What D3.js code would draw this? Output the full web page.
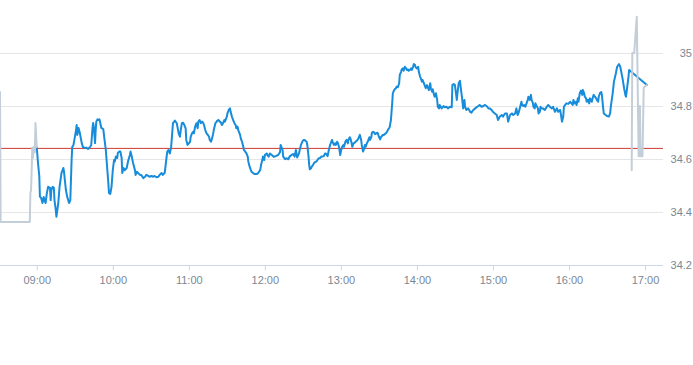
<!DOCTYPE html>
<html><head><meta charset="utf-8">
<script src="https://cdn.jsdelivr.net/npm/d3@7"></script>
<style>body{margin:0;background:#fff}svg{display:block;font-family:"Liberation Sans",Arial,sans-serif}</style>
</head><body><svg id="chart" width="693" height="365"></svg>
<script>
// minutes relative to the 09:00 open, price
const sessionOpen = Date.UTC(2024, 0, 2, 9, 0);
const xDomainMinutes = [-29, 495];
const hourTickMinutes = [0, 60, 120, 180, 240, 300, 360, 420, 480];
const priceTicks = [34.2, 34.4, 34.6, 34.8, 35];
const priceDomain = [34.2, 35.2];
const referencePrice = 34.64;

const preMarket = [[-29,34.853],[-28.5,34.362],[-5.5,34.362],[-5,34.475],[-4.5,34.48],[-3.5,34.642],[-3,34.605],[-2.5,34.645],[-1.5,34.625],[-1,34.736],[0,34.645]];

const session = [[0,34.645],[1,34.585],[2,34.536],[2.5,34.458],[3.5,34.453],[4.5,34.434],[5.5,34.457],[6.5,34.439],[7,34.434],[8,34.472],[9,34.495],[10.5,34.491],[11,34.445],[11.5,34.483],[12.5,34.495],[13.5,34.491],[14,34.445],[15,34.408],[15.5,34.382],[17,34.434],[18,34.495],[19.5,34.547],[21,34.566],[21.5,34.552],[23,34.483],[24,34.458],[25.5,34.434],[26.5,34.445],[27.5,34.596],[28,34.645],[29,34.653],[31,34.709],[31.5,34.728],[32,34.691],[33,34.717],[34,34.698],[35.5,34.66],[36.5,34.645],[38,34.642],[39,34.643],[40.5,34.638],[42,34.645],[43,34.653],[44,34.717],[44.5,34.736],[45,34.722],[46,34.66],[46.5,34.709],[47,34.741],[48,34.75],[48.5,34.747],[49.5,34.75],[51,34.717],[52.5,34.713],[53.5,34.672],[54.5,34.634],[55.5,34.571],[56.5,34.509],[57,34.472],[58,34.468],[59,34.495],[60,34.558],[61,34.596],[61.5,34.59],[62.5,34.609],[63.5,34.604],[64,34.623],[65,34.628],[66,34.628],[67,34.604],[67.5,34.547],[68.5,34.566],[69.5,34.558],[71,34.566],[72,34.59],[73.5,34.615],[74,34.628],[75,34.609],[76,34.585],[77.5,34.558],[78,34.54],[79,34.552],[80,34.547],[81.5,34.54],[82.5,34.54],[84,34.528],[85.5,34.533],[86.5,34.54],[88,34.536],[89,34.533],[90.5,34.536],[92,34.533],[93,34.536],[94.5,34.531],[96,34.533],[97,34.54],[98.5,34.547],[99.5,34.54],[101,34.548],[102.5,34.609],[103,34.628],[104,34.634],[105,34.621],[106,34.642],[106.5,34.672],[107.5,34.735],[108.5,34.741],[109,34.745],[110.5,34.735],[111,34.722],[112,34.697],[113,34.684],[113.5,34.703],[114.5,34.735],[115.5,34.737],[116.5,34.728],[117.5,34.716],[118,34.672],[119,34.653],[120,34.659],[121,34.665],[121.5,34.684],[122.5,34.697],[123.5,34.703],[124,34.697],[125,34.722],[126,34.735],[127,34.716],[127.5,34.741],[128.5,34.747],[129.5,34.735],[130.5,34.741],[131.5,34.735],[132,34.728],[133,34.709],[134,34.697],[135,34.691],[136,34.684],[136.5,34.672],[137.5,34.665],[138,34.672],[139,34.691],[140,34.716],[141,34.735],[142,34.741],[142.5,34.745],[143.5,34.747],[144.5,34.741],[145.5,34.737],[146,34.728],[147,34.735],[148,34.747],[148.5,34.741],[150,34.76],[150.5,34.772],[151.5,34.785],[152.5,34.791],[153,34.778],[154,34.76],[155,34.747],[156,34.735],[157,34.728],[157.5,34.716],[158.5,34.722],[159,34.709],[160.5,34.691],[161,34.678],[162,34.665],[163,34.646],[163.5,34.634],[164.5,34.628],[165.5,34.621],[166.5,34.609],[167,34.59],[168,34.571],[169,34.558],[169.5,34.552],[171,34.546],[172,34.543],[173.5,34.543],[174.5,34.546],[175.5,34.552],[176.5,34.561],[177,34.577],[178,34.596],[178.5,34.609],[179.5,34.596],[180,34.615],[181.5,34.621],[182,34.615],[183,34.609],[184,34.621],[185.5,34.615],[187,34.608],[188.5,34.611],[190.5,34.615],[192,34.626],[192.5,34.653],[194,34.634],[194.5,34.609],[196,34.599],[197,34.603],[198.5,34.599],[199.5,34.609],[201,34.615],[202.5,34.619],[203.5,34.609],[204.5,34.634],[205.5,34.606],[207,34.621],[207.5,34.634],[208.5,34.653],[210,34.669],[211,34.672],[212,34.669],[213,34.665],[213.5,34.653],[214.5,34.609],[215,34.577],[215.5,34.561],[216.5,34.565],[217,34.571],[218,34.577],[219,34.586],[220.5,34.59],[221.5,34.596],[222.5,34.603],[223.5,34.603],[224.5,34.609],[225.5,34.609],[226.5,34.611],[227.5,34.621],[228,34.621],[229,34.615],[229.5,34.611],[230.5,34.634],[231.5,34.653],[232,34.659],[233,34.672],[233.5,34.665],[234.5,34.653],[235.5,34.659],[236,34.653],[237,34.665],[237.5,34.662],[238.5,34.646],[239.5,34.615],[240,34.628],[241,34.646],[242,34.653],[242.5,34.646],[243.5,34.665],[244.5,34.672],[245.5,34.659],[246,34.672],[247,34.682],[247.5,34.678],[248.5,34.659],[249,34.646],[250,34.659],[251,34.662],[252.5,34.669],[253.5,34.674],[255,34.691],[256,34.672],[256.5,34.653],[257.5,34.628],[258,34.634],[259,34.653],[259.5,34.646],[260.5,34.659],[261.5,34.669],[262.5,34.682],[263,34.672],[264,34.682],[264.5,34.699],[265.5,34.703],[266.5,34.699],[267,34.694],[268,34.697],[269,34.699],[270,34.684],[271,34.674],[271.5,34.682],[272.5,34.687],[273,34.691],[274,34.691],[274.5,34.694],[275.5,34.697],[276.5,34.703],[277,34.709],[278,34.716],[278.5,34.72],[279.5,34.747],[280.5,34.81],[281,34.848],[282,34.86],[282.5,34.863],[283.5,34.867],[284,34.873],[285,34.871],[286,34.886],[286.5,34.917],[287.5,34.929],[288,34.938],[289,34.942],[289.5,34.933],[290.5,34.948],[291.5,34.942],[292,34.936],[293,34.938],[293.5,34.933],[294.5,34.936],[295.5,34.942],[296,34.936],[297,34.948],[297.5,34.958],[298.5,34.955],[299,34.946],[300,34.942],[301,34.948],[301.5,34.929],[302.5,34.911],[303,34.905],[304,34.892],[304.5,34.898],[305.5,34.886],[306.5,34.873],[307,34.867],[308,34.879],[308.5,34.871],[309.5,34.86],[310.5,34.886],[311,34.867],[312,34.854],[312.5,34.863],[313.5,34.842],[314,34.835],[315,34.848],[316,34.823],[316.5,34.797],[317.5,34.791],[318,34.804],[319.5,34.791],[321,34.8],[322,34.795],[323.5,34.797],[324.5,34.791],[326,34.797],[327.5,34.795],[328,34.879],[329,34.883],[330,34.879],[331.5,34.823],[332,34.848],[333,34.886],[334,34.895],[334.5,34.873],[335.5,34.835],[336.5,34.791],[337.5,34.823],[338,34.797],[339,34.785],[340.5,34.791],[342,34.778],[343,34.775],[344.5,34.785],[346,34.791],[347,34.795],[348.5,34.8],[349.5,34.804],[351,34.797],[352.5,34.8],[353.5,34.804],[355,34.8],[356.5,34.791],[357.5,34.791],[359,34.785],[360,34.778],[361.5,34.772],[363,34.766],[364,34.747],[365.5,34.76],[367,34.766],[368,34.76],[369.5,34.772],[371,34.772],[372,34.741],[373.5,34.766],[375,34.772],[376,34.766],[377.5,34.772],[378.5,34.791],[379.5,34.766],[380.5,34.778],[381.5,34.797],[382.5,34.816],[383,34.804],[384,34.8],[384.5,34.804],[385.5,34.797],[386.5,34.81],[387.5,34.823],[388,34.835],[389,34.823],[390,34.842],[390.5,34.823],[391.5,34.812],[392,34.797],[393,34.791],[393.5,34.81],[394.5,34.8],[395.5,34.791],[396,34.772],[397,34.778],[397.5,34.797],[398.5,34.791],[399.5,34.791],[401,34.785],[402.5,34.797],[403.5,34.804],[405,34.797],[406.5,34.791],[407.5,34.797],[409,34.778],[410.5,34.791],[411.5,34.778],[413,34.785],[413.5,34.772],[414.5,34.741],[415.5,34.76],[416,34.797],[417,34.804],[418,34.81],[419.5,34.808],[421,34.816],[422,34.81],[423,34.804],[423.5,34.823],[424.5,34.81],[425.5,34.816],[426,34.804],[427,34.829],[427.5,34.816],[428.5,34.848],[429.5,34.858],[430.5,34.842],[431,34.86],[432,34.848],[432.5,34.835],[433.5,34.829],[434,34.816],[435,34.823],[436,34.81],[436.5,34.829],[437.5,34.823],[438,34.816],[439,34.835],[439.5,34.842],[440.5,34.835],[441.5,34.829],[442,34.823],[443,34.816],[443.5,34.835],[444.5,34.849],[445.5,34.853],[446,34.842],[447,34.791],[447.5,34.772],[449,34.766],[450,34.762],[451.5,34.76],[452.5,34.772],[453,34.797],[454.5,34.848],[455.5,34.892],[457,34.923],[458,34.948],[459.5,34.958],[460.5,34.948],[461.5,34.923],[462.5,34.898],[463.5,34.867],[464.5,34.842],[465,34.835],[466,34.873],[467,34.911],[467.5,34.936],[481.5,34.879]];

const closingAuction = [[469.5,34.558],[470,35.0],[471.5,35.0],[473.5,35.137],[475,34.61],[476,34.8],[476.5,34.61],[478,34.61],[479,34.87],[481.5,34.879]];

const plotRight = 663, plotBottom = 265;
const toDate = m => new Date(sessionOpen + m * 60000);
const svg = d3.select("#chart");

const x = d3.scaleUtc().domain(xDomainMinutes.map(toDate)).range([0, 664]);
const y = d3.scaleLinear().domain(priceDomain).range([plotBottom, 0]);

// grid
svg.append("g").selectAll("line").data(priceTicks.filter(v => v !== priceDomain[0])).join("line")
  .attr("x1", 0).attr("x2", plotRight)
  .attr("y1", d => Math.round(y(d)) + 0.5).attr("y2", d => Math.round(y(d)) + 0.5)
  .attr("stroke", "#e6e6e6").attr("stroke-width", 1);

// x axis
const xAxis = d3.axisBottom(x).tickValues(hourTickMinutes.map(toDate))
  .tickFormat(d3.utcFormat("%H:%M")).tickSize(5).tickSizeOuter(0).tickPadding(6);
const gx = svg.append("g").attr("transform", `translate(0,${plotBottom + 0.5})`).call(xAxis);
gx.select(".domain").attr("d", `M0,0H${plotRight}`).attr("stroke", "#ccd6eb");
gx.selectAll(".tick line").attr("stroke", "#ccd6eb");
gx.selectAll("text").attr("fill", "#7a8794").style("font-size", "11px").style("font-family", "'Liberation Sans', Arial, sans-serif");

// y axis (right)
const yAxis = d3.axisRight(y).tickValues(priceTicks).tickFormat(d3.format("~g")).tickSize(0).tickPadding(0);
const gy = svg.append("g").attr("transform", `translate(${plotRight},0)`).call(yAxis);
gy.select(".domain").remove();
gy.selectAll("text").attr("x", 29).attr("text-anchor", "end").attr("fill", "#7a8794")
  .style("font-size", "11px").style("font-family", "'Liberation Sans', Arial, sans-serif");

// reference line
svg.append("line").attr("x1", 0).attr("x2", plotRight)
  .attr("y1", y(referencePrice)).attr("y2", y(referencePrice))
  .attr("stroke", "#cc3b30").attr("stroke-width", 1);

const line = d3.line().x(d => x(toDate(d[0]))).y(d => y(d[1]));

svg.append("path").datum(session).attr("d", line)
  .attr("fill", "none").attr("stroke", "#178cdb").attr("stroke-width", 2)
  .attr("stroke-linejoin", "round").attr("stroke-linecap", "round");

[preMarket, closingAuction].forEach(seg => {
  svg.append("path").datum(seg).attr("d", line)
    .attr("fill", "none").attr("stroke", "#c3ced8").attr("stroke-width", 2)
    .attr("stroke-linejoin", "round").attr("stroke-linecap", "round");
});
</script></body></html>
